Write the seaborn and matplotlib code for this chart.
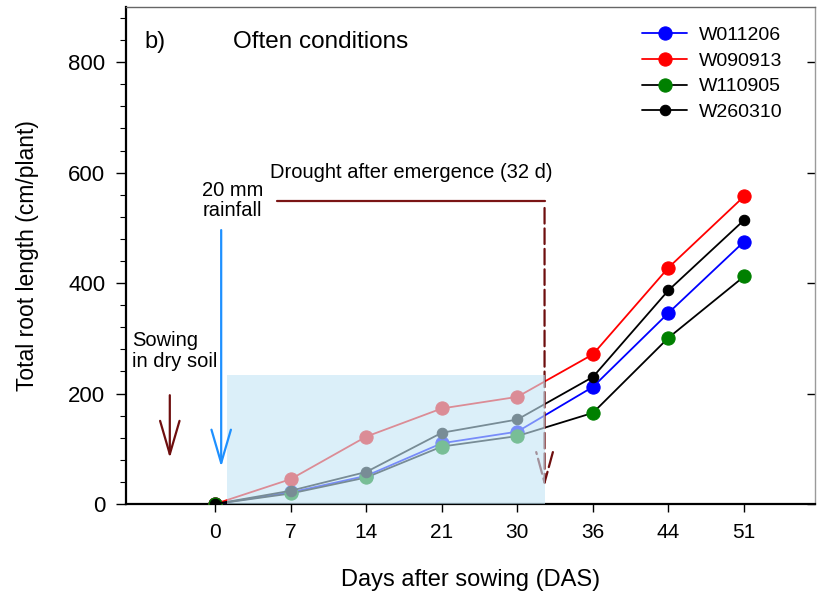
import matplotlib
matplotlib.use("Agg")
import matplotlib.pyplot as plt
from matplotlib.patches import Rectangle
from matplotlib.ticker import MultipleLocator
import numpy as np
import pandas as pd
import seaborn as sns

# days after sowing (plotted as evenly spaced categories)
DAS = [0, 7, 14, 21, 30, 36, 44, 51]
W011206 = [0, 21, 51, 110, 131, 212, 346, 475]
W090913 = [0, 45, 122, 173, 194, 271, 428, 557]
W110905 = [0, 19, 48, 104, 123, 165, 301, 412]
W260310 = [0, 24, 58, 129, 153, 230, 387, 514]

GENOTYPES = ["W011206", "W090913", "W110905", "W260310"]
SERIES = [W011206, W090913, W110905, W260310]
LINE_COLORS = ["#0000ff", "#ff0000", "#000000", "#000000"]
MARKER_COLORS = ["#0000ff", "#ff0000", "#008000", "#000000"]
MARKER_SIZES = [9.5, 9.5, 9.5, 7.5]

sns.set_theme(style="ticks")
plt.rcParams["font.family"] = ["Liberation Sans", "DejaVu Sans"]
plt.rcParams.update({"text.color": "black", "axes.labelcolor": "black",
                     "xtick.color": "black", "ytick.color": "black"})

x = np.arange(len(DAS))
df = pd.DataFrame({"x": np.tile(x, len(GENOTYPES)),
                   "das": DAS * len(GENOTYPES),
                   "length": np.concatenate(SERIES),
                   "genotype": np.repeat(GENOTYPES, len(DAS))})

fig = plt.figure(figsize=(8.17, 6.03), dpi=100)
ax = fig.add_axes([0.1542, 0.1642, 0.8434, 0.8242])

for name, lc, mc, ms in zip(GENOTYPES, LINE_COLORS, MARKER_COLORS, MARKER_SIZES):
    sub = df[df["genotype"] == name]
    sns.lineplot(data=sub, x="x", y="length", ax=ax, color=lc, marker="o",
                 markersize=ms, markerfacecolor=mc, markeredgecolor=mc,
                 markeredgewidth=0.8, linewidth=1.3, label=name, zorder=3)

# drought period shading (drawn over the early part of the curves)
ax.add_patch(Rectangle((0.16, 0), 4.2, 234, facecolor="#c5e6f6", alpha=0.61,
                       edgecolor="none", zorder=4))

dark_red = "#6e0e0e"
# drought bracket
ax.plot([0.82, 4.36], [548, 548], color="#7a1515", lw=1.6, zorder=2)
ax.annotate("", xy=(4.36, 31), xytext=(4.36, 536),
            arrowprops=dict(arrowstyle="->,head_length=22,head_width=6",
                            mutation_scale=1, color=dark_red, lw=1.6,
                            linestyle=(0, (7, 2.2)), shrinkA=0, shrinkB=0),
            zorder=3)
ax.text(2.6, 601, "Drought after emergence (32 d)", ha="center", va="center",
        fontsize=14.5)

# rainfall arrow
ax.annotate("", xy=(0.08, 67), xytext=(0.08, 496),
            arrowprops=dict(arrowstyle="->,head_length=24,head_width=7",
                            mutation_scale=1, color="#1e90ff", lw=1.6,
                            shrinkA=0, shrinkB=0), zorder=5)
ax.text(-0.17, 550, "20 mm\nrainfall", ha="left", va="center", fontsize=14.5,
        linespacing=1.05)

# sowing arrow
ax.annotate("", xy=(-0.6, 83), xytext=(-0.6, 197),
            arrowprops=dict(arrowstyle="->,head_length=24,head_width=7",
                            mutation_scale=1, color=dark_red, lw=1.6,
                            shrinkA=0, shrinkB=0), zorder=5)
ax.text(-1.1, 277, "Sowing\nin dry soil", ha="left", va="center",
        fontsize=14.5, linespacing=1.1)

ax.text(-0.93, 836, "b)", ha="left", va="center", fontsize=17)
ax.text(0.24, 836, "Often conditions", ha="left", va="center", fontsize=17.5)

ax.set_xlim(-1.18, 7.94)
ax.set_ylim(0, 900)
ax.set_xticks(x, labels=[str(d) for d in DAS])
ax.set_yticks([0, 200, 400, 600, 800])
ax.yaxis.set_minor_locator(MultipleLocator(40))
ax.tick_params(axis="x", which="major", direction="out", length=6, width=1,
               labelsize=15, pad=8)
ax.tick_params(axis="y", which="major", direction="out", length=7, width=1,
               labelsize=16, pad=8)
ax.tick_params(axis="y", which="minor", direction="out", length=4, width=0.8,
               left=True)

ax.set_xlabel("Days after sowing (DAS)", fontsize=17)
ax.set_ylabel("Total root length (cm/plant)", fontsize=16.5)
ax.xaxis.set_label_coords(0.5, -0.131)
ax.yaxis.set_label_coords(-0.126, 0.5)

for side in ["left", "bottom"]:
    ax.spines[side].set_color("black")
    ax.spines[side].set_linewidth(1.6)
ax.spines["top"].set_color("#666666")
ax.spines["top"].set_linewidth(1.0)
ax.spines["right"].set_visible(False)

right = ax.secondary_yaxis("right")
right.set_yticks([0, 200, 400, 600, 800])
right.tick_params(direction="in", length=6, width=1, labelright=False)
right.spines["right"].set_color("#9a9a9a")
right.spines["right"].set_linewidth(1.0)

ax.legend(loc="upper left", bbox_to_anchor=(0.738, 0.977), frameon=False,
          fontsize=14, handlelength=2.3, handletextpad=0.6,
          labelspacing=0.42, borderaxespad=0)

fig.savefig("out.png", dpi=100)
